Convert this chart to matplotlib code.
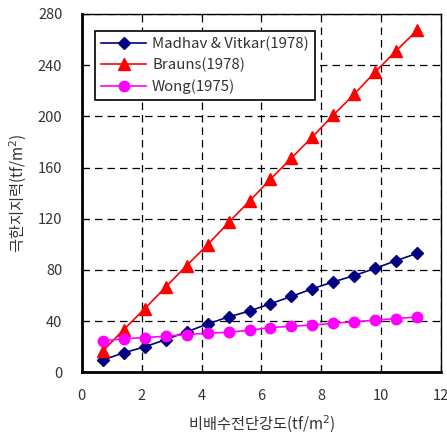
import numpy as np
import matplotlib
matplotlib.use("Agg")
import matplotlib.pyplot as plt

plt.rcParams['font.family'] = ['Noto Sans CJK KR', 'DejaVu Sans']

# undrained shear strength (tf/m2)
cu = [0.7, 1.4, 2.1, 2.8, 3.5, 4.2, 4.9, 5.6, 6.3, 7.0, 7.7, 8.4, 9.1, 9.8, 10.5, 11.2]
madhav = [9.6, 15.3, 19.9, 25.6, 31.6, 37.8, 43.3, 47.9, 53.6, 59.3, 65.3, 70.7, 75.6, 81.3, 87.3, 93.0]
brauns = [16.6, 33.4, 49.7, 66.6, 83.4, 99.7, 117.1, 133.8, 151.0, 167.4, 184.0, 201.0, 217.4, 234.8, 251.3, 267.4]
wong = [24.6, 26.2, 27.2, 28.2, 29.5, 30.6, 31.3, 32.9, 35.0, 36.0, 37.0, 38.3, 39.6, 40.7, 42.0, 43.3]

txt = '#333333'

fig = plt.figure(figsize=(4.47, 4.36), dpi=100)
ax = fig.add_axes([0.183, 0.146, 0.804, 0.822])

ax.plot(cu, madhav, color='#000080', marker='D', markersize=6, lw=1.2,
        label='Madhav & Vitkar(1978)')
ax.plot(cu, brauns, color='#ff0000', marker='^', markersize=8, lw=1.2,
        label='Brauns(1978)')
ax.plot(cu, wong, color='#ff00ff', marker='o', markersize=7.5, lw=1.2,
        label='Wong(1975)')

ax.set_xlim(0, 12)
ax.set_ylim(0, 280)
ax.set_xticks(range(0, 13, 2))
ax.set_yticks(range(0, 281, 40))
ax.grid(True, color='black', linestyle=(0, (6, 4)), linewidth=0.9)
ax.tick_params(direction='in', length=5, colors='black', labelcolor=txt,
               labelsize=10.5)
ax.tick_params(axis='x', pad=12)
ax.tick_params(axis='y', pad=14)
for s in ['left', 'bottom']:
    ax.spines[s].set_linewidth(2)
for s in ['top', 'right']:
    ax.spines[s].set_linewidth(1)

ax.set_xlabel('비배수전단강도(tf/m$^2$)', fontsize=11, color=txt, labelpad=8)
ax.set_ylabel('극한지지력(tf/m$^2$)', fontsize=11, color=txt, labelpad=6)

leg = ax.legend(loc='upper left', bbox_to_anchor=(0.037, 0.953), fontsize=10.8,
                fancybox=False, framealpha=1, edgecolor='black', borderaxespad=0,
                handlelength=3.0, borderpad=0.4, labelspacing=0.45,
                handletextpad=0.4, markerscale=1.0)
leg.get_frame().set_linewidth(1.2)
for t in leg.get_texts():
    t.set_color(txt)

fig.savefig('out.png', dpi=100)
